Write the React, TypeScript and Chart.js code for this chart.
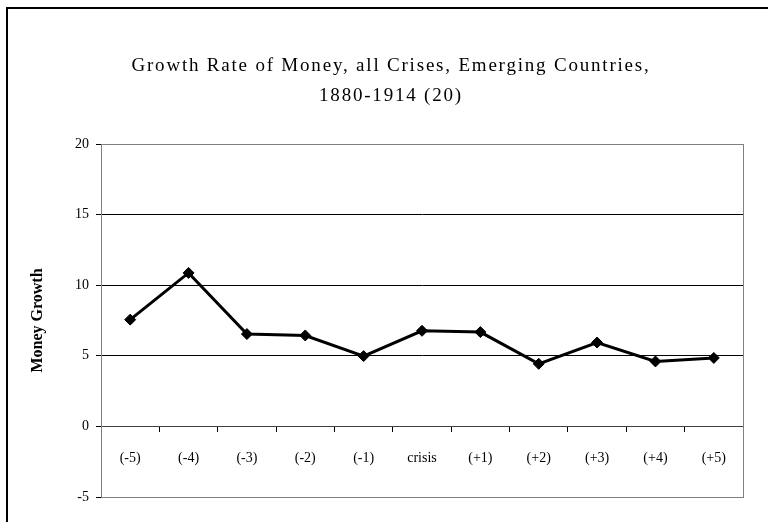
import React, { useEffect, useRef } from "react";
import { Chart, registerables } from "chart.js";

Chart.register(...registerables);

const categories = ["(-5)", "(-4)", "(-3)", "(-2)", "(-1)", "crisis", "(+1)", "(+2)", "(+3)", "(+4)", "(+5)"];
const moneyGrowth = [7.56, 10.87, 6.54, 6.44, 4.98, 6.77, 6.68, 4.43, 5.94, 4.6, 4.85];
const yMin = -5;
const yMax = 20;
const yStep = 5;
const titleLines = ["Growth Rate of Money, all Crises, Emerging Countries,", "1880-1914 (20)"];
const yAxisTitle = "Money Growth";

const SERIF = '"Liberation Serif", "Times New Roman", serif';

const framePlugin = {
  id: "frame",
  beforeDatasetsDraw(chart: any) {
    const { ctx, chartArea } = chart;
    ctx.save();
    ctx.strokeStyle = "#808080";
    ctx.lineWidth = 1;
    const l = Math.round(chartArea.left) + 0.5;
    const t = Math.round(chartArea.top) + 0.5;
    const r = Math.round(chartArea.right) + 0.5;
    const b = Math.round(chartArea.bottom) + 0.5;
    ctx.strokeRect(l, t, r - l, b - t);
    ctx.restore();
  },
};

const titlePlugin = {
  id: "customTitle",
  afterDraw(chart: any) {
    const { ctx } = chart;
    ctx.save();
    ctx.fillStyle = "#000";
    ctx.font = `19px ${SERIF}`;
    try {
      (ctx as any).letterSpacing = "1.8px";
    } catch (e) {}
    ctx.textAlign = "center";
    ctx.textBaseline = "alphabetic";
    ctx.fillText(titleLines[0], 391, 71);
    ctx.fillText(titleLines[1], 391, 101);
    ctx.restore();
  },
};

export default function App() {
  const canvasRef = useRef<HTMLCanvasElement | null>(null);

  useEffect(() => {
    const canvas = canvasRef.current;
    if (!canvas) return;
    const chart = new Chart(canvas, {
      type: "line",
      data: {
        labels: categories,
        datasets: [
          {
            label: yAxisTitle,
            data: moneyGrowth,
            borderColor: "#000",
            backgroundColor: "#000",
            borderWidth: 3,
            pointStyle: "rectRot",
            pointRadius: 5.5,
            pointHoverRadius: 5.5,
            pointBackgroundColor: "#000",
            pointBorderColor: "#000",
            pointBorderWidth: 1,
            tension: 0,
            fill: false,
          },
        ],
      },
      options: {
        responsive: false,
        animation: false,
        devicePixelRatio: 1,
        layout: { padding: { left: 0, right: 25, top: 144, bottom: 25 } },
        plugins: {
          legend: { display: false },
          title: { display: false },
          tooltip: { enabled: false },
        },
        scales: {
          x: {
            type: "category",
            position: { y: 0 } as any,
            offset: true,
            afterFit(scale: any) {
              scale.height = 0;
            },
            grid: {
              display: true,
              drawOnChartArea: false,
              drawTicks: true,
              tickLength: 5,
              offset: true,
              color: "#000",
              tickColor: "#000",
            },
            border: { display: true, color: "#404040", width: 1 },
            ticks: {
              color: "#000",
              font: { family: SERIF, size: 14 },
              padding: 19,
              maxRotation: 0,
              autoSkip: false,
            },
          },
          y: {
            min: yMin,
            max: yMax,
            afterFit(scale: any) {
              scale.width = 101;
            },
            ticks: {
              stepSize: yStep,
              color: "#000",
              font: { family: SERIF, size: 14 },
              padding: 7,
            },
            grid: {
              color: "#000",
              lineWidth: 1,
              drawTicks: true,
              tickLength: 5,
              tickColor: "#000",
            },
            border: { display: true, color: "#808080", width: 1 },
            title: {
              display: true,
              text: yAxisTitle,
              color: "#000",
              font: { family: SERIF, size: 16, weight: "bold" },
              padding: { top: 28, bottom: 0 },
            },
          },
        },
      },
      plugins: [framePlugin, titlePlugin],
    });
    return () => chart.destroy();
  }, []);

  return (
    <div
      style={{
        position: "fixed",
        left: 0,
        top: 0,
        width: 768,
        height: 522,
        overflow: "hidden",
        background: "#fff",
      }}
    >
      <canvas
        ref={canvasRef}
        width={768}
        height={522}
        style={{ display: "block", width: 768, height: 522, position: "absolute", left: 0, top: 0 }}
      />
      <div
        style={{
          position: "absolute",
          left: 6,
          top: 7,
          width: 800,
          height: 600,
          border: "2px solid #000",
          boxSizing: "border-box",
          pointerEvents: "none",
        }}
      />
    </div>
  );
}
